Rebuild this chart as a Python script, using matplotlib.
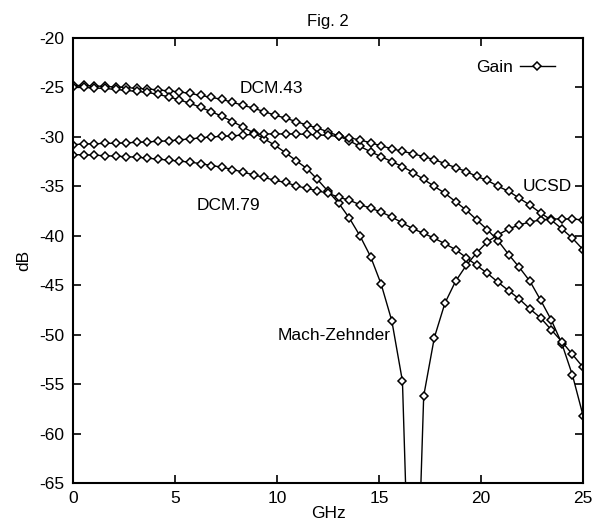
import numpy as np
import matplotlib
matplotlib.use("Agg")
import matplotlib.pyplot as plt

plt.rcParams['font.family'] = ['Liberation Sans', 'DejaVu Sans']
plt.rcParams['axes.unicode_minus'] = False

# frequency grid, 49 samples from 0 to 25 GHz
freq = np.linspace(0, 25, 49)

dcm43 = [-24.8, -24.8, -24.85, -24.9, -24.95, -25.0, -25.1, -25.15, -25.25, -25.35,
         -25.45, -25.6, -25.8, -26.0, -26.2, -26.5, -26.8, -27.1, -27.45, -27.8,
         -28.1, -28.45, -28.8, -29.1, -29.5, -29.9, -30.4, -30.95, -31.5, -32.0,
         -32.5, -33.0, -33.6, -34.3, -35.0, -35.7, -36.55, -37.4, -38.4, -39.4,
         -40.5, -41.9, -43.2, -44.6, -46.5, -48.5, -50.9, -54.1, -58.2]

mach_zehnder = [-25.0, -25.0, -25.05, -25.1, -25.2, -25.3, -25.4, -25.5, -25.7, -25.95,
                -26.25, -26.6, -27.0, -27.45, -27.9, -28.45, -29.0, -29.6, -30.2, -30.85,
                -31.6, -32.4, -33.2, -34.3, -35.5, -36.7, -38.2, -40.0, -42.1, -44.9,
                -48.6, -54.7, -90.0, -56.2, -50.3, -46.8, -44.6, -43.0, -41.7, -40.6,
                -39.9, -39.3, -38.9, -38.6, -38.4, -38.3, -38.3, -38.3, -38.4]

ucsd = [-30.8, -30.7, -30.7, -30.65, -30.65, -30.6, -30.55, -30.5, -30.45, -30.4,
        -30.3, -30.2, -30.1, -30.0, -29.95, -29.9, -29.8, -29.75, -29.7, -29.7,
        -29.7, -29.7, -29.75, -29.8, -29.85, -29.95, -30.1, -30.3, -30.6, -30.9,
        -31.2, -31.45, -31.7, -32.0, -32.3, -32.7, -33.1, -33.5, -34.0, -34.4,
        -35.0, -35.5, -36.2, -36.9, -37.7, -38.4, -39.3, -40.25, -41.4]

dcm79 = [-31.8, -31.8, -31.85, -31.9, -31.95, -32.0, -32.05, -32.15, -32.25, -32.35,
         -32.45, -32.55, -32.7, -32.9, -33.05, -33.3, -33.55, -33.85, -34.1, -34.4,
         -34.6, -34.95, -35.2, -35.45, -35.7, -36.1, -36.4, -36.85, -37.2, -37.6,
         -38.1, -38.7, -39.3, -39.75, -40.25, -40.8, -41.4, -42.2, -43.0, -43.8,
         -44.7, -45.55, -46.4, -47.4, -48.3, -49.5, -50.7, -52.0, -53.3]

fs = 12.5

fig = plt.figure(figsize=(5.95, 5.28), dpi=100)
ax = fig.add_axes([0.1227, 0.0852, 0.8573, 0.8428])

style = dict(color="black", lw=1.0, marker="D", ms=4.2, mfc="white", mec="black", mew=1.1)
ax.plot(freq, dcm43, label="Gain", **style)
ax.plot(freq, mach_zehnder, **style)
ax.plot(freq, ucsd, **style)
ax.plot(freq, dcm79, **style)

ax.set_xlim(0, 25)
ax.set_ylim(-65, -20)
ax.set_xticks(np.arange(0, 26, 5))
ax.set_yticks(np.arange(-65, -19, 5))
ax.tick_params(direction="in", top=True, right=True, length=6, width=1.2, labelsize=fs, pad=6)
for s in ax.spines.values():
    s.set_linewidth(1.5)

ax.set_title("Fig. 2", fontsize=fs - 0.5, pad=9)
ax.set_xlabel("GHz", fontsize=fs, labelpad=0)
ax.set_ylabel("dB", fontsize=fs, labelpad=6)

ax.text(9.7, -25.15, "DCM.43", fontsize=fs, ha="center", va="center")
ax.text(7.6, -36.9, "DCM.79", fontsize=fs, ha="center", va="center")
ax.text(10.05, -50.1, "Mach-Zehnder", fontsize=fs, ha="left", va="center")
ax.text(24.45, -35.0, "UCSD", fontsize=fs, ha="right", va="center")

ax.legend(loc="upper right", frameon=False, markerfirst=False, numpoints=1,
          fontsize=fs, handlelength=2.0, handletextpad=0.4,
          bbox_to_anchor=(0.975, 0.985))

fig.savefig("out.png", dpi=100)
